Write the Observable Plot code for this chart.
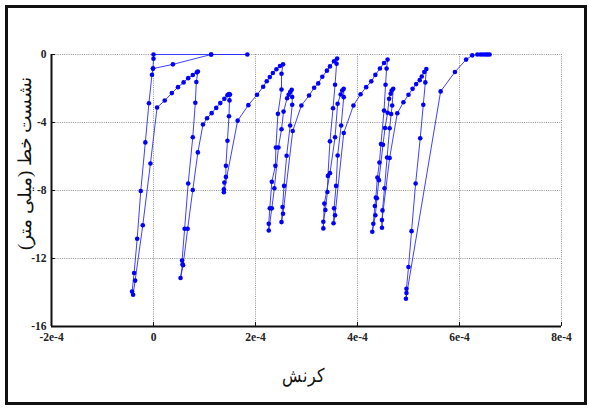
<!DOCTYPE html>
<html>
<head>
<meta charset="utf-8">
<script src="https://cdn.jsdelivr.net/npm/d3@7"></script>
<script src="https://cdn.jsdelivr.net/npm/@observablehq/plot@0.6"></script>
<style>
  html, body { margin: 0; padding: 0; background: #fff; }
  #wrap { position: relative; width: 589px; height: 408px; }
  #border { position: absolute; left: 5px; top: 5px; width: 582px; height: 400px;
            box-sizing: border-box; border: 3px solid #111; pointer-events: none; }
</style>
</head>
<body>
<div id="wrap"><div id="border"></div></div>
<script>
// strain in units of 1e-4, settlement in mm (order follows the plotted path)
const strainE4 = [
  -0.01, 0, 0, 1.13, 1.84, 1.13, 0.38, -0.01,
  -0.03, -0.09, -0.16, -0.25, -0.32, -0.38, -0.42, -0.40,
  -0.36, -0.21, -0.06, 0.07, 0.22, 0.36, 0.48, 0.59, 0.68, 0.77, 0.85, 0.87,
  0.84, 0.82, 0.77, 0.68, 0.61, 0.56, 0.57, 0.53,
  0.58, 0.67, 0.77, 0.87, 0.97, 1.05, 1.14, 1.23, 1.31, 1.39, 1.45, 1.48, 1.50,
  1.49, 1.48, 1.45, 1.42, 1.42, 1.39, 1.38, 1.38,
  1.65, 1.86, 2.03, 2.15, 2.22, 2.28, 2.34, 2.41, 2.48, 2.54,
  2.51, 2.51, 2.44, 2.40, 2.39, 2.32, 2.28, 2.26, 2.26,
  2.32, 2.37, 2.45, 2.51, 2.55, 2.62, 2.65, 2.68, 2.71,
  2.72, 2.72, 2.68, 2.61, 2.56, 2.53, 2.51,
  2.54, 2.73, 2.90,
  3.05, 3.15, 3.23, 3.31, 3.40, 3.46, 3.54, 3.60,
  3.59, 3.56, 3.52, 3.46, 3.42, 3.41, 3.37, 3.33, 3.33,
  3.35, 3.46, 3.56, 3.61, 3.67, 3.70, 3.73,
  3.73, 3.68, 3.61, 3.58, 3.54, 3.53,
  3.56, 3.73, 3.92,
  4.06, 4.17, 4.27, 4.35, 4.44, 4.52, 4.59,
  4.57, 4.55, 4.52, 4.46, 4.43, 4.39, 4.36, 4.34, 4.31, 4.29,
  4.35, 4.38, 4.42, 4.50, 4.54, 4.59, 4.62, 4.65, 4.67, 4.70,
  4.68, 4.66, 4.63, 4.58, 4.53, 4.49, 4.48,
  4.48, 4.63, 4.78,
  4.90, 5.00, 5.08, 5.15, 5.22, 5.26, 5.31, 5.35,
  5.33, 5.29, 5.23, 5.14, 5.06, 5.00, 4.96, 4.96, 4.95,
  5.63, 5.91, 6.13, 6.25, 6.35, 6.41, 6.46, 6.51, 6.55, 6.59
];
const settlement = [
  -0.83, -0.25, 0, 0, 0, 0, -0.58, -0.83,
  -1.19, -2.87, -5.17, -8.03, -10.84, -12.85, -13.94, -14.13,
  -13.3, -10.04, -6.41, -3.12, -2.71, -2.27, -1.92, -1.64, -1.39, -1.21, -1.05, -1.0,
  -1.62, -2.84, -4.87, -7.59, -10.25, -12.12, -12.34, -13.15,
  -12.4, -10.25, -7.97, -5.76, -4.12, -3.75, -3.45, -3.14, -2.86, -2.61, -2.39, -2.33, -2.36,
  -2.7, -3.63, -5.07, -6.55, -7.2, -7.53, -7.93, -8.1,
  -3.89, -2.98, -2.37, -1.90, -1.57, -1.33, -1.09, -0.87, -0.68, -0.58,
  -1.13, -2.06, -3.49, -5.47, -6.55, -7.49, -9.05, -9.96, -10.35,
  -9.05, -7.87, -5.47, -4.4, -3.36, -2.57, -2.37, -2.21, -2.08,
  -2.5, -2.96, -4.18, -5.96, -7.73, -8.97, -9.86,
  -9.37, -4.5, -3.0,
  -2.41, -1.96, -1.70, -1.31, -0.95, -0.70, -0.40, -0.24,
  -0.54, -1.78, -3.16, -5.11, -7.14, -8.09, -9.15, -9.84, -10.23,
  -8.77, -6.98, -4.87, -2.9, -2.35, -2.12, -2.02,
  -2.51, -4.18, -5.94, -7.73, -9.05, -9.93,
  -9.46, -4.62, -3.0,
  -2.34, -1.92, -1.58, -1.2, -0.82, -0.5, -0.30,
  -0.83, -1.78, -3.3, -5.27, -6.35, -7.24, -8.42, -8.91, -9.96, -10.43,
  -9.46, -8.46, -7.39, -5.31, -4.32, -3.43, -2.61, -2.31, -2.12, -2.02,
  -3.0, -3.5, -4.34, -6.06, -7.87, -9.17, -10.19,
  -9.74, -6.09, -3.46,
  -2.81, -2.37, -2.02, -1.74, -1.51, -1.29, -1.03, -0.86,
  -1.64, -2.96, -4.93, -7.59, -10.39, -12.5, -13.78, -14.03, -14.37,
  -2.17, -1.03, -0.30, -0.05, 0, 0, 0, 0, 0, 0
];
const xTicks = [-2e-4, 0, 2e-4, 4e-4, 6e-4, 8e-4];
const xTickLabels = ["-2e-4", "0", "2e-4", "4e-4", "6e-4", "8e-4"];
const yTicks = [0, -4, -8, -12, -16];
const yTickLabels = ["0", "-4", "-8", "-12", "-16"];
const xLabel = "کرنش";
const yLabel = "نشست خط (میلی متر)";

const data = strainE4.map((s, i) => ({x: s * 1e-4, y: settlement[i]}));
const gridX = xTicks.filter(v => v !== xTicks[0]);
const gridY = yTicks.filter(v => v !== yTicks[yTicks.length - 1]);
const serif = "'Liberation Serif', 'Times New Roman', 'DejaVu Serif', serif";

const plot = Plot.plot({
  width: 589,
  height: 408,
  marginLeft: 51,
  marginRight: 28,
  marginTop: 54,
  marginBottom: 82,
  style: {fontFamily: serif, fontSize: "11.5px", fontWeight: "bold", background: "transparent", overflow: "visible"},
  x: {domain: [xTicks[0], xTicks[xTicks.length - 1]], label: null},
  y: {domain: [yTicks[yTicks.length - 1], yTicks[0]], label: null},
  marks: [
    Plot.gridX(gridX, {stroke: "#777", strokeOpacity: 1, strokeWidth: 0.8, strokeDasharray: "1,1.2"}),
    Plot.gridY(gridY, {stroke: "#777", strokeOpacity: 1, strokeWidth: 0.8, strokeDasharray: "1,1.2"}),
    Plot.ruleX([xTicks[0]], {stroke: "#111", strokeWidth: 2}),
    Plot.ruleY([yTicks[yTicks.length - 1]], {stroke: "#111", strokeWidth: 2}),
    Plot.axisX(xTicks, {tickSize: -4, tickPadding: 10, tickFormat: (d) => xTickLabels[xTicks.indexOf(d)], label: null, stroke: "#111", fill: "#222"}),
    Plot.axisY(yTicks, {tickSize: -4, tickPadding: 9, tickFormat: (d) => yTickLabels[yTicks.indexOf(d)], label: null, stroke: "#111", fill: "#222"}),
    Plot.line(data, {x: "x", y: "y", stroke: "#2a2aff", strokeWidth: 0.9}),
    Plot.dot(data, {x: "x", y: "y", fill: "#0000ff", r: 2.3, stroke: "none"}),
    Plot.text([xLabel], {frameAnchor: "bottom", textAnchor: "middle", lineAnchor: "middle", dx: -3, dy: 49, fontSize: 19, fontWeight: "normal", fill: "#111", text: d => d}),
    Plot.text([yLabel], {frameAnchor: "left", textAnchor: "middle", lineAnchor: "middle", dx: -26, dy: -27, rotate: -90, fontSize: 18, fontWeight: "normal", fill: "#111", text: d => d})
  ]
});
document.getElementById("wrap").prepend(plot);
// squeeze the Persian labels (fallback font is wider) to the length they occupy in the reference
function fitText(el, target) {
  const b = el.getBBox();
  if (!b.width) return;
  const sx = target / b.width;
  const cx = b.x + b.width / 2, cy = b.y + b.height / 2;
  const prev = el.getAttribute("transform") || "";
  el.setAttribute("transform", `${prev} translate(${cx},${cy}) scale(${sx},1) translate(${-cx},${-cy})`);
}
d3.select(plot).selectAll("text").each(function () {
  const t = this.textContent;
  if (t === yLabel) fitText(this, 176);
  if (t === xLabel) fitText(this, 41);
});
</script>
</body>
</html>
